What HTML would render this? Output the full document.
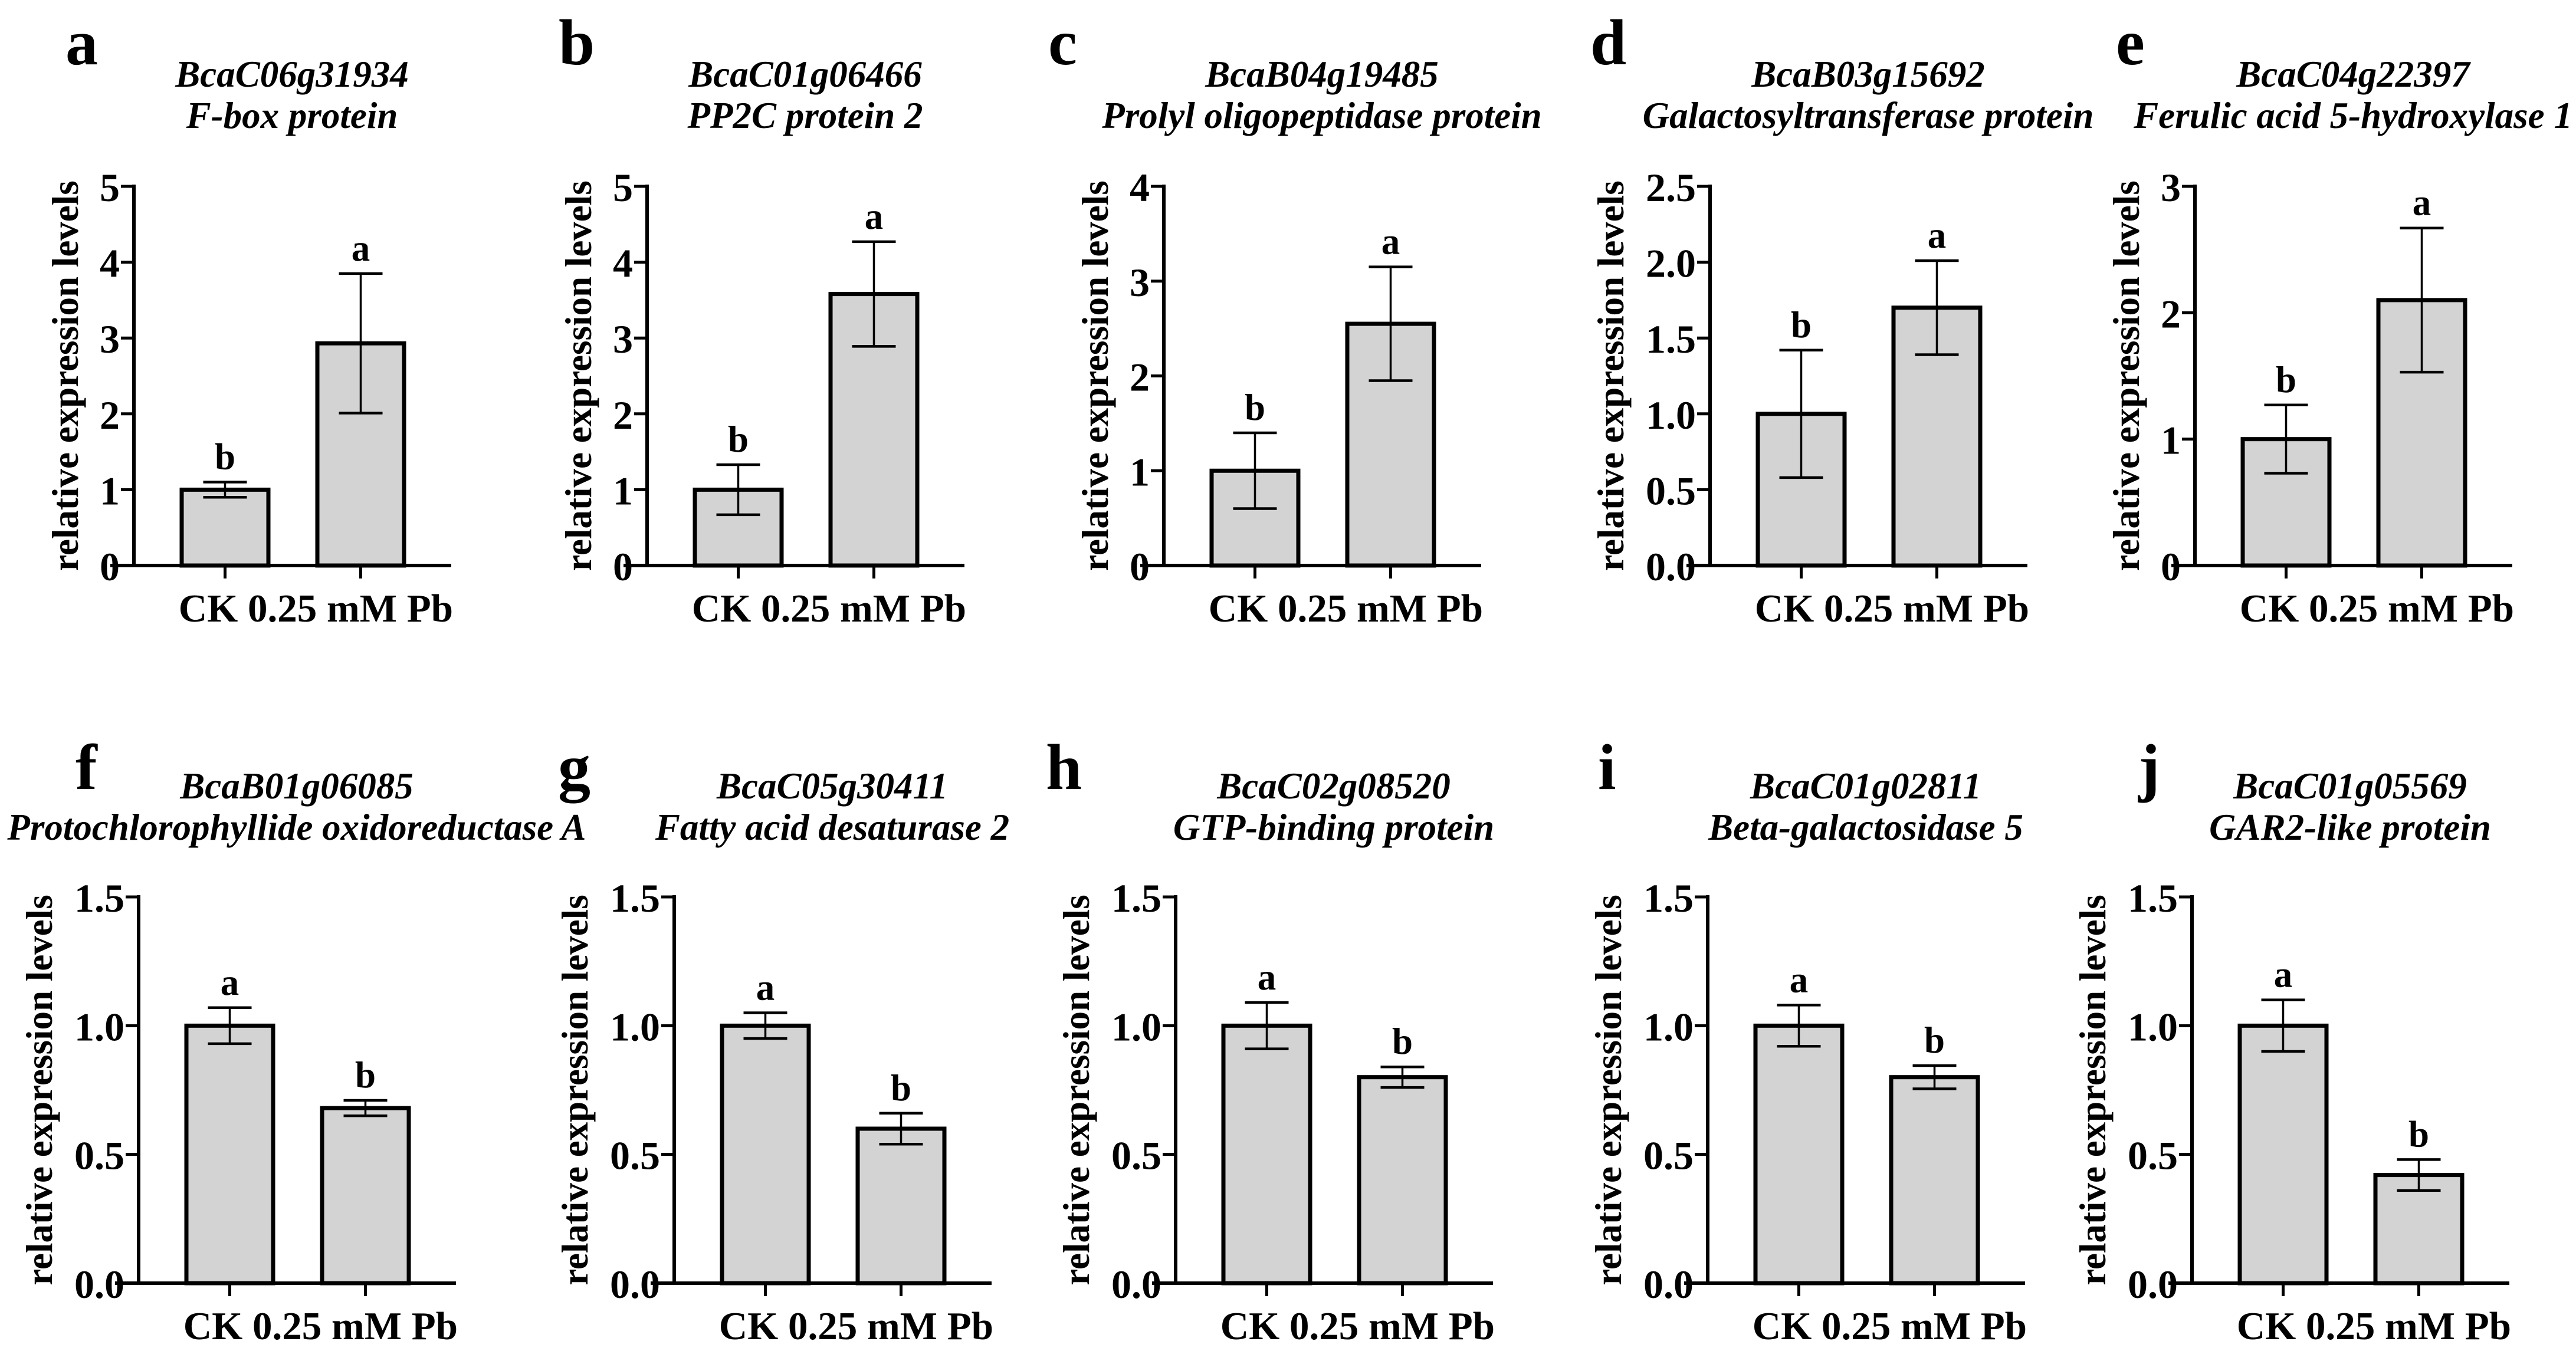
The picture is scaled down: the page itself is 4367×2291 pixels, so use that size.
<!DOCTYPE html>
<html><head><meta charset="utf-8">
<style>
html,body{margin:0;padding:0;background:#fff;}
svg{display:block;}
text{font-family:"Liberation Serif","Times New Roman",serif;font-weight:bold;fill:#000;}
</style></head>
<body>
<svg id="fig" width="4367" height="2291" viewBox="0 0 4367 2291" xmlns="http://www.w3.org/2000/svg"></svg>
<script>
// ---- data ----
const panelLetters = ['a','b','c','d','e','f','g','h','i','j'];
const geneIds = ['BcaC06g31934','BcaC01g06466','BcaB04g19485','BcaB03g15692','BcaC04g22397','BcaB01g06085','BcaC05g30411','BcaC02g08520','BcaC01g02811','BcaC01g05569'];
const geneNames = ['F-box protein','PP2C protein 2','Prolyl oligopeptidase protein','Galactosyltransferase protein','Ferulic acid 5-hydroxylase 1','Protochlorophyllide oxidoreductase A','Fatty acid desaturase 2','GTP-binding protein','Beta-galactosidase 5','GAR2-like protein'];
const categories = ['CK','0.25 mM Pb'];
const ckMeans = [1,1,1,1,1,1,1,1,1,1];
const ckErr = [0.1,0.33,0.4,0.42,0.27,0.07,0.05,0.09,0.08,0.1];
const pbMeans = [2.93,3.58,2.55,1.70,2.10,0.68,0.60,0.80,0.80,0.42];
const pbErr = [0.92,0.69,0.60,0.31,0.57,0.03,0.06,0.04,0.045,0.06];
const ckLetters = ['b','b','b','b','b','a','a','a','a','a'];
const pbLetters = ['a','a','a','a','a','b','b','b','b','b'];
const yMaxes = [5,5,4,2.5,3,1.5,1.5,1.5,1.5,1.5];
const yStep = [1,1,1,0.5,1,0.5,0.5,0.5,0.5,0.5];
const yDecimals = [0,0,0,1,0,1,1,1,1,1];

// ---- layout (not data) ----
const axisXs = [227,1097,1973,2899,3721,235,1143,1993,2895,3716];
const letterXs = [111,947,1777,2696,3587,128,946,1773,2709,3625];
const NS = 'http://www.w3.org/2000/svg';
const svg = document.getElementById('fig');
function mk(tag, attrs, parent){
  const e = document.createElementNS(NS, tag);
  for (const k in attrs) e.setAttribute(k, attrs[k]);
  (parent||svg).appendChild(e);
  return e;
}
for (let p = 0; p < 10; p++){
  const top = p < 5;
  const ax = axisXs[p];
  const y0 = top ? 959 : 2176;
  const y1 = top ? 316 : 1521;
  const titleY = top ? 147 : 1354;
  const letterY = top ? 109 : 1338;
  const yScale = v => y0 - (v / yMaxes[p]) * (y0 - y1);
  const g = mk('g', {});
  
  

  const lt = mk('text', {x: letterXs[p], y: letterY, 'font-size': 110}, g);
  
  
  lt.textContent = panelLetters[p];

  const t1 = mk('text', {x: ax + 268, y: titleY, 'font-size': 63, 'font-style': 'italic', 'text-anchor': 'middle'}, g);
  
  
  t1.textContent = geneIds[p];
  const t2 = mk('text', {x: ax + 268, y: titleY + 70, 'font-size': 63, 'font-style': 'italic', 'text-anchor': 'middle'}, g);
  
  
  t2.textContent = geneNames[p];

  // y axis title
  const yTx = ax - (yDecimals[p] ? 168 : 116);
  const yMid = (y0 + y1) / 2;
  const yt = mk('text', {x: yTx, y: yMid, 'font-size': 63, 'text-anchor': 'middle', 'dominant-baseline': 'central', transform: 'rotate(-90 ' + yTx + ' ' + yMid + ')'}, g);
  
  
  yt.textContent = 'relative expression levels';

  // ticks
  const nT = Math.round(yMaxes[p] / yStep[p]);
  for (let i = 0; i <= nT; i++){
    const v = i * yStep[p];
    const ty = yScale(v);
    const tk = mk('line', {x1: ax - 22, x2: ax, y1: ty, y2: ty, stroke: '#000', 'stroke-width': 5}, g);
    
    
    const tl = mk('text', {x: ax - 24, y: ty + 2, 'font-size': 68, 'text-anchor': 'end', 'dominant-baseline': 'central'}, g);
    
    
    tl.textContent = v.toFixed(yDecimals[p]);
  }

  // bars
  const means = [ckMeans[p], pbMeans[p]];
  const errs = [ckErr[p], pbErr[p]];
  const lets = [ckLetters[p], pbLetters[p]];
  const barL = [ax + 81, ax + 311];
  const bw = 147;
  for (let b = 0; b < 2; b++){
    const yb = yScale(means[b]);
    const r = mk('rect', {x: barL[b], y: yb, width: bw, height: y0 - yb, fill: '#d3d3d3', stroke: '#000', 'stroke-width': 7}, g);
    
    
    const cx = barL[b] + bw / 2;
    const yHi = yScale(means[b] + errs[b]);
    const yLo = yScale(means[b] - errs[b]);
    const st = mk('line', {x1: cx, x2: cx, y1: yHi, y2: yLo, stroke: '#000', 'stroke-width': 3.5}, g);
    
    
    for (const yy of [yHi, yLo]){
      const c = mk('line', {x1: cx - 37, x2: cx + 37, y1: yy, y2: yy, stroke: '#000', 'stroke-width': 4.5}, g);
      
      
    }
    const sl = mk('text', {x: cx, y: yHi - 22, 'font-size': 63, 'text-anchor': 'middle'}, g);
    
    
    sl.textContent = lets[b];
    const xt = mk('line', {x1: cx, x2: cx, y1: y0, y2: y0 + 22, stroke: '#000', 'stroke-width': 5}, g);
    
    
  }

  // axes
  const ya = mk('line', {x1: ax, x2: ax, y1: y1 - 3, y2: y0 + 3, stroke: '#000', 'stroke-width': 6}, g);
  
  
  const xa = mk('line', {x1: ax - 40, x2: ax + 538, y1: y0, y2: y0, stroke: '#000', 'stroke-width': 6}, g);
  
  

  const xl = mk('text', {x: ax + 541, y: y0 + 95, 'font-size': 67, 'text-anchor': 'end'}, g);
  
  
  xl.textContent = categories[0] + ' ' + categories[1];
}
</script>
</body></html>
